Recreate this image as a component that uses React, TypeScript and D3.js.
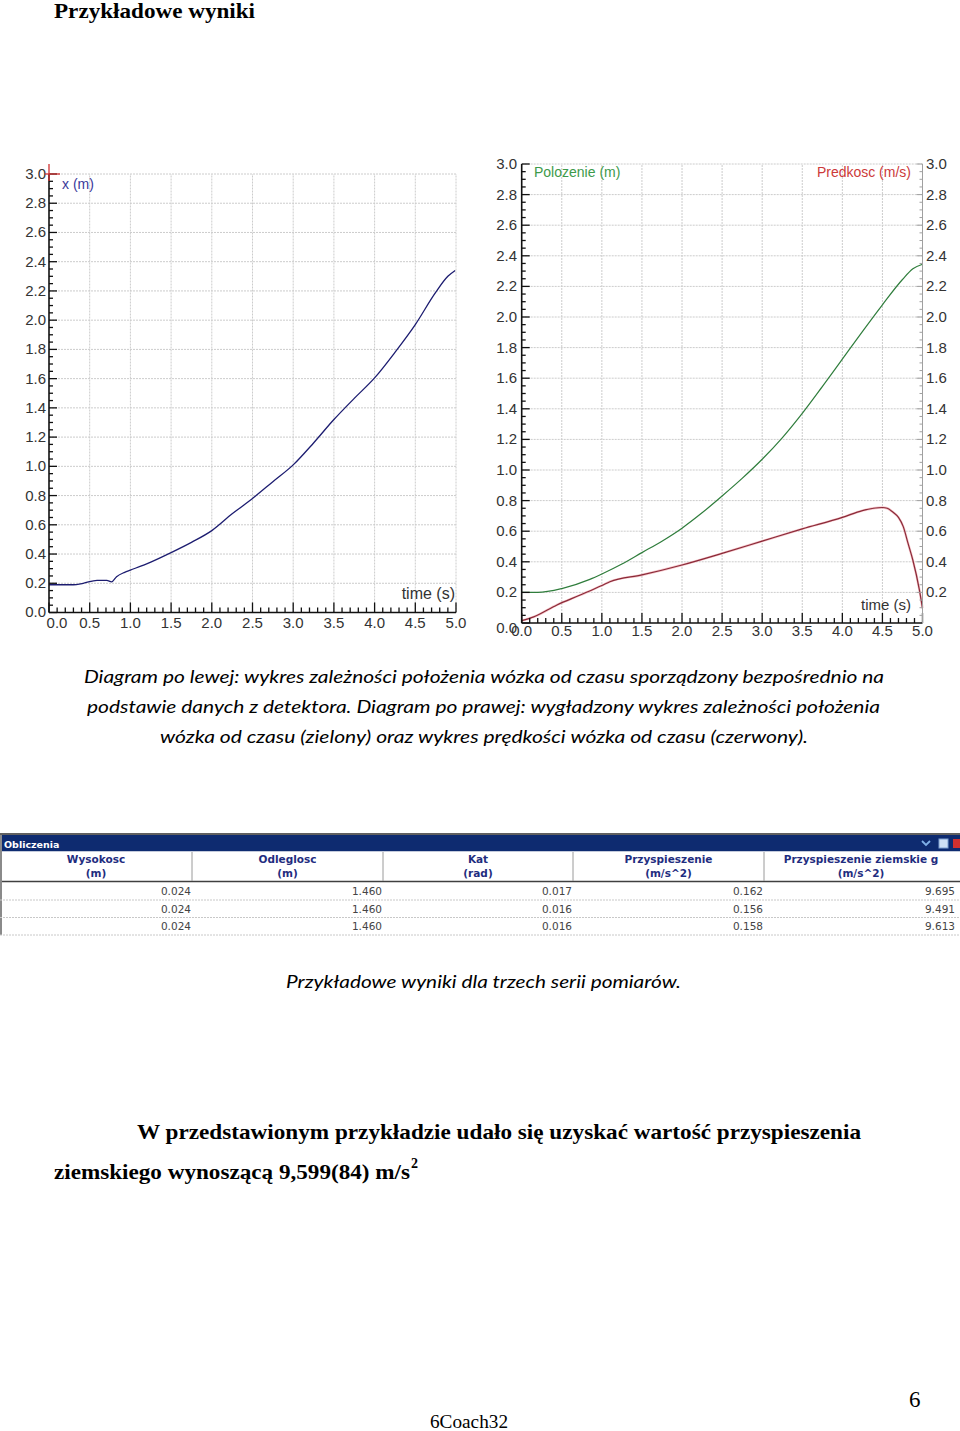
import React from "react";
import * as d3 from "d3";

// ---- tick labels ----
const xTickLabels = ["0.0", "0.5", "1.0", "1.5", "2.0", "2.5", "3.0", "3.5", "4.0", "4.5", "5.0"];
const yTickLabels = ["0.0", "0.2", "0.4", "0.6", "0.8", "1.0", "1.2", "1.4", "1.6", "1.8", "2.0", "2.2", "2.4", "2.6", "2.8", "3.0"];

// ---- left chart: raw position x(t) ----
const leftTime = [0, 0.3, 0.42, 0.59, 0.71, 0.77, 0.83, 0.93, 1.0, 1.25, 1.5, 1.75, 2.0, 2.25, 2.5, 2.75, 3.0, 3.25, 3.5, 3.75, 4.0, 4.25, 4.5, 4.75, 4.9, 4.99];
const leftPos = [0.19, 0.19, 0.2, 0.22, 0.22, 0.21, 0.245, 0.275, 0.29, 0.345, 0.41, 0.48, 0.56, 0.675, 0.78, 0.895, 1.01, 1.16, 1.32, 1.465, 1.605, 1.78, 1.97, 2.19, 2.3, 2.34];

// ---- right chart: smoothed position (green) ----
const greenTime = [0, 0.2, 0.5, 0.85, 1.0, 1.25, 1.5, 1.75, 2.0, 2.25, 2.5, 2.75, 3.0, 3.25, 3.5, 3.75, 4.0, 4.25, 4.5, 4.75, 4.88, 5.0];
const greenPos = [0.2, 0.2, 0.225, 0.285, 0.32, 0.385, 0.46, 0.535, 0.62, 0.72, 0.83, 0.945, 1.07, 1.21, 1.37, 1.545, 1.725, 1.905, 2.08, 2.245, 2.315, 2.345];

// ---- right chart: velocity (red) ----
const redTime = [0, 0.15, 0.44, 0.73, 1.0, 1.1, 1.5, 2.0, 2.5, 3.0, 3.5, 4.0, 4.25, 4.5, 4.56, 4.63, 4.7, 4.76, 4.82, 4.88, 4.96, 5.0];
const redVel = [0.015, 0.04, 0.118, 0.183, 0.245, 0.27, 0.314, 0.379, 0.455, 0.535, 0.615, 0.69, 0.735, 0.755, 0.75, 0.725, 0.69, 0.63, 0.52, 0.41, 0.22, 0.096];

// ---- table ----
const tableTitle = "Obliczenia";
const headerTop = ["Wysokosc", "Odleglosc", "Kat", "Przyspieszenie", "Przyspieszenie ziemskie g"];
const headerBottom = ["(m)", "(m)", "(rad)", "(m/s^2)", "(m/s^2)"];
const heightCol = ["0.024", "0.024", "0.024"];
const distanceCol = ["1.460", "1.460", "1.460"];
const angleCol = ["0.017", "0.016", "0.016"];
const accelCol = ["0.162", "0.156", "0.158"];
const gCol = ["9.695", "9.491", "9.613"];

const AX_FONT = "'Liberation Sans', Arial, sans-serif";
const SERIF = "'Liberation Serif', 'Times New Roman', serif";
const CAP_FONT = "Lato, 'Open Sans', sans-serif";
const TAB_FONT = "'DejaVu Sans', Tahoma, sans-serif";

type Chart = {
  x: d3.ScaleLinear<number, number>;
  y: d3.ScaleLinear<number, number>;
};

function Grid({ x, y }: Chart) {
  const xs = xTickLabels.map(Number).filter((v) => v > 0);
  const ys = yTickLabels.map(Number).filter((v) => v > 0);
  const [x0, x1] = x.range();
  const [y0, y1] = y.range();
  return (
    <g stroke="#cccccc" strokeWidth={1} strokeDasharray="2,1" fill="none">
      {xs.map((v) => (
        <line key={"gx" + v} x1={x(v)} x2={x(v)} y1={y0} y2={y1} />
      ))}
      {ys.map((v) => (
        <line key={"gy" + v} x1={x0} x2={x1} y1={y(v)} y2={y(v)} />
      ))}
    </g>
  );
}

function XAxis({ x, y, labelY, firstShift }: Chart & { labelY: number; firstShift: number }) {
  const y0 = y.range()[0];
  const minor = d3.range(0, 51).map((i) => i / 10);
  return (
    <g>
      <line x1={x(0)} x2={x(5)} y1={y0} y2={y0} stroke="#111" strokeWidth={1.5} />
      {minor.map((v, i) => (
        <line key={"mx" + i} x1={x(v)} x2={x(v)} y1={y0} y2={y0 - (i % 5 === 0 ? 10 : 5)} stroke="#111" strokeWidth={1.3} />
      ))}
      {xTickLabels.map((l, i) => (
        <text key={"lx" + l} x={x(+l) + (i === 0 ? firstShift : 0)} y={labelY} textAnchor="middle" fontFamily={AX_FONT} fontSize={15} fill="#333">
          {l}
        </text>
      ))}
    </g>
  );
}

function YAxis({ x, y, labelX, bottomShift }: Chart & { labelX: number; bottomShift: number }) {
  const x0 = x.range()[0];
  const minor = d3.range(0, 61).map((i) => i / 20);
  return (
    <g>
      <line x1={x0} x2={x0} y1={y(0)} y2={y(3)} stroke="#111" strokeWidth={1.6} />
      {minor.map((v, i) => (
        <line key={"my" + i} x1={x0} x2={x0 + (i % 4 === 0 ? 8 : 4)} y1={y(v)} y2={y(v)} stroke="#111" strokeWidth={1.3} />
      ))}
      {yTickLabels.map((l, i) => (
        <text key={"ly" + l} x={labelX} y={y(+l) + 5 + (i === 0 ? bottomShift : 0)} textAnchor="end" fontFamily={AX_FONT} fontSize={15} fill="#333">
          {l}
        </text>
      ))}
    </g>
  );
}

export default function App() {
  // left chart scales
  const xL = d3.scaleLinear().domain([0, 5]).range([49, 456]);
  const yL = d3.scaleLinear().domain([0, 3]).range([612.5, 174]);
  // right chart scales
  const xR = d3.scaleLinear().domain([0, 5]).range([521.7, 922.5]);
  const yR = d3.scaleLinear().domain([0, 3]).range([623, 164]);

  const lineL = d3
    .line<number>()
    .x((_, i) => xL(leftTime[i]))
    .y((d) => yL(d))
    .curve(d3.curveMonotoneX);
  const lineG = d3
    .line<number>()
    .x((_, i) => xR(greenTime[i]))
    .y((d) => yR(d))
    .curve(d3.curveMonotoneX);
  const lineR = d3
    .line<number>()
    .x((_, i) => xR(redTime[i]))
    .y((d) => yR(d))
    .curve(d3.curveMonotoneX);

  const rightMinor = d3.range(1, 61).map((i) => i / 20);

  // table geometry
  const colEdges = [0, 192, 383, 573, 764, 958];
  const cols = [heightCol, distanceCol, angleCol, accelCol, gCol];
  const rowBase = [895, 912.5, 930];
  const rowLines = [900, 917.5, 935];

  return (
    <svg width={960} height={1431} style={{ position: "absolute", left: 0, top: 0, display: "block", background: "#fff" }}>
      <rect x={0} y={0} width={960} height={1431} fill="#fff" />

      {/* Heading */}
      <text x={54} y={18} fontFamily={SERIF} fontWeight="bold" fontSize={21} fill="#000" textLength={201} lengthAdjust="spacingAndGlyphs">
        Przykładowe wyniki
      </text>

      {/* ===== LEFT CHART ===== */}
      <Grid x={xL} y={yL} />
      <path d={lineL(leftPos) || ""} fill="none" stroke="#1c1c70" strokeWidth={1.3} />
      <XAxis x={xL} y={yL} labelY={628} firstShift={8} />
      <YAxis x={xL} y={yL} labelX={46} bottomShift={-1} />
      {/* red cursor cross */}
      <line x1={45} x2={60} y1={yL(3)} y2={yL(3)} stroke="#d03030" strokeWidth={1.3} />
      <line x1={49} x2={49} y1={164} y2={181} stroke="#d03030" strokeWidth={1.3} />
      <text x={62} y={189} fontFamily={AX_FONT} fontSize={14} fill="#3a3a9a">
        x (m)
      </text>
      <text x={455} y={599} textAnchor="end" fontFamily={AX_FONT} fontSize={16} fill="#333">
        time (s)
      </text>

      {/* ===== RIGHT CHART ===== */}
      <Grid x={xR} y={yR} />
      <path d={lineG(greenPos) || ""} fill="none" stroke="#2f7d3c" strokeWidth={1.2} />
      <path d={lineR(redVel) || ""} fill="none" stroke="#f0a0a8" strokeWidth={2.4} opacity={0.6} />
      <path d={lineR(redVel) || ""} fill="none" stroke="#8a2a38" strokeWidth={1.2} />
      <XAxis x={xR} y={yR} labelY={636} firstShift={0} />
      <YAxis x={xR} y={yR} labelX={517} bottomShift={5} />
      {/* right axis */}
      <line x1={xR(5)} x2={xR(5)} y1={yR(0)} y2={yR(3)} stroke="#a0a0a0" strokeWidth={1} />
      {rightMinor.map((v, i) => (
        <line key={"rm" + i} x1={xR(5)} x2={xR(5) - ((i + 1) % 4 === 0 ? 6 : 3)} y1={yR(v)} y2={yR(v)} stroke="#a0a0a0" strokeWidth={1} />
      ))}
      {yTickLabels
        .filter((l) => +l > 0)
        .map((l) => (
          <text key={"ry" + l} x={926} y={yR(+l) + 5} fontFamily={AX_FONT} fontSize={15} fill="#333">
            {l}
          </text>
        ))}
      <text x={534} y={177} fontFamily={AX_FONT} fontSize={14} fill="#3d9a4a">
        Polozenie (m)
      </text>
      <text x={911} y={177} textAnchor="end" fontFamily={AX_FONT} fontSize={14} fill="#cc3a3a">
        Predkosc (m/s)
      </text>
      <text x={911} y={610} textAnchor="end" fontFamily={AX_FONT} fontSize={15} fill="#333">
        time (s)
      </text>

      {/* ===== CAPTION ===== */}
      <g fontFamily={CAP_FONT} fontStyle="italic" fontSize={18} fill="#000">
        <text x={84} y={683} textLength={800} lengthAdjust="spacingAndGlyphs">
          Diagram po lewej: wykres zależności położenia wózka od czasu sporządzony bezpośrednio na
        </text>
        <text x={87} y={713} textLength={793} lengthAdjust="spacingAndGlyphs">
          podstawie danych z detektora. Diagram po prawej: wygładzony wykres zależności położenia
        </text>
        <text x={160} y={743} textLength={648} lengthAdjust="spacingAndGlyphs">
          wózka od czasu (zielony) oraz wykres prędkości wózka od czasu (czerwony).
        </text>
      </g>

      {/* ===== TABLE ===== */}
      <rect x={0} y={833} width={960} height={2} fill="#606060" />
      <rect x={0} y={835} width={960} height={16.5} fill="#0e2b70" />
      <text x={4} y={848} fontFamily={TAB_FONT} fontWeight="bold" fontSize={9.5} fill="#fff">
        {tableTitle}
      </text>
      <path d="M922,841 L926,845 L930,841" fill="none" stroke="#7fb0e8" strokeWidth={1.8} />
      <rect x={939} y={839} width={9} height={9} fill="#cfe0f5" stroke="#7fa0d0" />
      <rect x={953} y={839} width={7} height={9} fill="#d03030" />
      <rect x={0} y={851.5} width={960} height={30} fill="#fff" />
      <line x1={0} x2={960} y1={881.5} y2={881.5} stroke="#404040" strokeWidth={1.3} />
      {colEdges.slice(1, 5).map((e) => (
        <line key={"ce" + e} x1={e} x2={e} y1={852} y2={881} stroke="#9a9a9a" strokeWidth={1} />
      ))}
      <rect x={0} y={835} width={2} height={100} fill="#8a8a8a" />
      {headerTop.map((h, i) => {
        const cx = (colEdges[i] + colEdges[i + 1]) / 2;
        return (
          <g key={"h" + i} fontFamily={TAB_FONT} fontWeight="bold" fontSize={10.5} fill="#1f2d80" textAnchor="middle">
            <text x={cx} y={863}>{h}</text>
            <text x={cx} y={877}>{headerBottom[i]}</text>
          </g>
        );
      })}
      {rowLines.map((yy) => (
        <line key={"rl" + yy} x1={0} x2={960} y1={yy} y2={yy} stroke="#c8c8c8" strokeWidth={1} strokeDasharray="2,1" />
      ))}
      {cols.map((col, ci) =>
        col.map((v, ri) => (
          <text
            key={"c" + ci + "_" + ri}
            x={ci === 4 ? 955 : colEdges[ci + 1] - 1}
            y={rowBase[ri]}
            textAnchor="end"
            fontFamily={TAB_FONT}
            fontSize={10.5}
            fill="#444"
          >
            {v}
          </text>
        ))
      )}

      <text x={286} y={988} fontFamily={CAP_FONT} fontStyle="italic" fontSize={18} fill="#000" textLength={395} lengthAdjust="spacingAndGlyphs">
        Przykładowe wyniki dla trzech serii pomiarów.
      </text>

      {/* ===== CONCLUSION ===== */}
      <text x={137} y={1139} fontFamily={SERIF} fontWeight="bold" fontSize={22} fill="#000" textLength={724} lengthAdjust="spacingAndGlyphs">
        W przedstawionym przykładzie udało się uzyskać wartość przyspieszenia
      </text>
      <text x={54} y={1179} fontFamily={SERIF} fontWeight="bold" fontSize={22} fill="#000" textLength={356} lengthAdjust="spacingAndGlyphs">
        ziemskiego wynoszącą 9,599(84) m/s
      </text>
      <text x={411} y={1168} fontFamily={SERIF} fontWeight="bold" fontSize={14} fill="#000">
        2
      </text>

      {/* ===== FOOTER ===== */}
      <text x={909} y={1407} fontFamily={SERIF} fontSize={23} fill="#000">
        6
      </text>
      <text x={430} y={1428} fontFamily={SERIF} fontSize={18} fill="#000" textLength={78} lengthAdjust="spacingAndGlyphs">
        6Coach32
      </text>
    </svg>
  );
}
